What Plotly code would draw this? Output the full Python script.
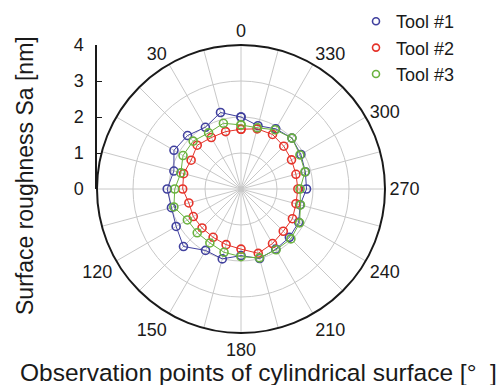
import plotly.graph_objects as go

angles = [0, 15, 30, 45, 60, 75, 90, 105, 120, 135, 150, 165,
          180, 195, 210, 225, 240, 255, 270, 285, 300, 315, 330, 345]
tool1 = [2.00, 2.20, 1.98, 2.10, 2.15, 1.93, 2.05, 2.00, 2.08, 2.26, 1.97, 2.01,
         1.85, 2.00, 1.93, 1.90, 1.85, 1.70, 1.82, 1.85, 1.92, 2.00, 1.93, 1.82]
tool2 = [1.66, 1.65, 1.65, 1.72, 1.60, 1.65, 1.62, 1.50, 1.53, 1.53, 1.55, 1.60,
         1.67, 1.85, 1.75, 1.66, 1.65, 1.58, 1.58, 1.58, 1.62, 1.68, 1.75, 1.73]
tool3 = [1.78, 1.89, 1.80, 1.88, 1.86, 1.73, 1.84, 1.93, 1.72, 1.72, 1.73, 1.82,
         1.88, 1.98, 1.95, 1.96, 1.88, 1.71, 1.64, 1.84, 1.89, 2.00, 1.90, 1.76]
names = ["Tool #1", "Tool #2", "Tool #3"]
colors = ["#40409e", "#e5332a", "#6ab23e"]
radial_ticks = [0, 1, 2, 3, 4]
angle_ticks = list(range(0, 360, 15))
hidden_labels = [60, 90]
angle_text = [str(a) if (a % 30 == 0 and a not in hidden_labels) else "" for a in angle_ticks]

FONT = "Liberation Sans, Arial, sans-serif"

fig = go.Figure()
for vals, name, col in zip([tool1, tool2, tool3], names, colors):
    fig.add_trace(go.Scatterpolar(
        r=vals + vals[:1], theta=angles + angles[:1], mode="lines+markers",
        line=dict(color=col, width=1),
        marker=dict(symbol="circle-open", size=8, color=col, line=dict(width=1.6)),
        showlegend=False, name=name))
    fig.add_trace(go.Scatterpolar(
        r=[None], theta=[None], mode="markers", name=name,
        marker=dict(symbol="circle-open", size=7, color=col, line=dict(width=1.6)),
        showlegend=True))

fig.add_trace(go.Scatter(x=[0, 0], y=[radial_ticks[0], radial_ticks[-1]], mode="lines",
                         line=dict(color="rgba(0,0,0,0)"), showlegend=False,
                         hoverinfo="skip", xaxis="x", yaxis="y"))

W, H = 502, 385
cx, cy, R = 241, 189, 144
fig.update_layout(
    width=W, height=H,
    margin=dict(l=0, r=0, t=0, b=0, pad=0, autoexpand=False),
    paper_bgcolor="white", plot_bgcolor="rgba(0,0,0,0)",
    font=dict(family=FONT, size=16, color="#1a1a1a"),
    polar=dict(
        domain=dict(x=[(cx - R) / W, (cx + R) / W], y=[1 - (cy + R) / H, 1 - (cy - R) / H]),
        bgcolor="white",
        radialaxis=dict(range=[0, 4], tickvals=radial_ticks[1:], showticklabels=False,
                        ticks="", showline=False, gridcolor="#c8c8c8", gridwidth=1),
        angularaxis=dict(rotation=90, direction="counterclockwise",
                         tickvals=angle_ticks, ticktext=angle_text, ticks="",
                         showline=True, linecolor="#1a1a1a", linewidth=2,
                         gridcolor="#c8c8c8", gridwidth=1,
                         tickfont=dict(size=18, family=FONT)),
    ),
    xaxis=dict(domain=[(cx - R) / W, (cx - R + 1) / W], range=[0, 1], visible=False,
               fixedrange=True, automargin=False),
    yaxis=dict(domain=[1 - cy / H, 1 - (cy - R) / H], range=[0, 4], anchor="x",
               tickvals=radial_ticks, ticks="inside", ticklen=5, tickcolor="#1a1a1a",
               showline=True, linecolor="#1a1a1a", linewidth=1.5, showgrid=False,
               zeroline=False, tickfont=dict(size=18, family=FONT), ticklabelstandoff=8,
               automargin=False),
    legend=dict(x=356 / W, y=1 - 3 / H, xanchor="left", yanchor="top",
                font=dict(size=18, family=FONT), bgcolor="rgba(0,0,0,0)",
                tracegroupgap=0, itemwidth=30),
    annotations=[
        dict(text="Surface roughness Sa [nm]", x=25 / W, y=1 - 176 / H, xref="paper",
             yref="paper", xanchor="center", yanchor="middle", showarrow=False,
             textangle=-90, font=dict(size=23, family=FONT)),
        dict(text="Observation points of cylindrical surface [\u00b0  ]", x=258 / W,
             y=1 - 372 / H, xref="paper", yref="paper", xanchor="center",
             yanchor="middle", showarrow=False, font=dict(size=24.5, family=FONT)),
    ],
)
fig.write_html("out.html", config={"displayModeBar": False},
               post_script="document.body.style.margin='0';document.body.style.overflow='hidden';")
